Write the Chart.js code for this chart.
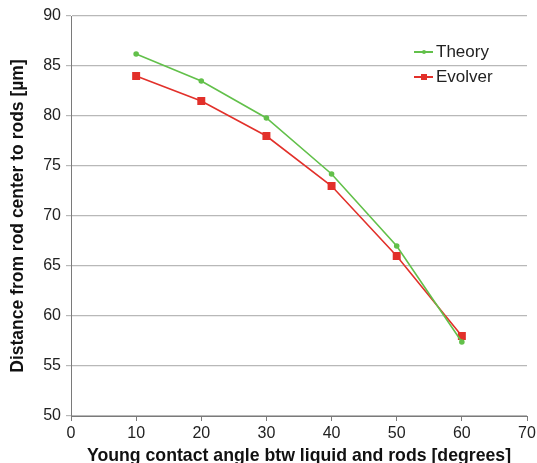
<!DOCTYPE html>
<html>
<head>
<meta charset="utf-8">
<script src="https://cdn.jsdelivr.net/npm/chart.js@4.4.1/dist/chart.umd.min.js"></script>
<style>
    html, body { margin: 0; padding: 0; background: #fff; overflow: hidden; }
    #wrap { position: relative; width: 537px; height: 467px; }
    #legend {
        position: absolute; left: 414px; top: 39px;
        font-family: "Liberation Sans", Arial, sans-serif; font-size: 17px; color: #222;
    }
    .item { display: flex; align-items: center; height: 25px; }
    .sample { position: relative; width: 19px; height: 2px; margin-right: 3px; }
    .sample i { position: absolute; left: 50%; top: 50%; transform: translate(-50%, -50%); }
</style>
</head>
<body>
<div id="wrap">
    <canvas id="chart" width="537" height="467"></canvas>
    <div id="legend"></div>
</div>
<script>
// ------------------------------------------
// Veriler
// ------------------------------------------
const angles = [10, 20, 30, 40, 50, 60];
const theory = [86.2, 83.5, 79.8, 74.2, 67.0, 57.4];
const evolver = [84.0, 81.5, 78.0, 73.0, 66.0, 58.0];

const xTitle = "Young contact angle btw liquid and rods [degrees]";
const yTitle = "Distance from rod center to rods [µm]";

const GREEN = "#62c04a";
const RED = "#e2302a";

const FONT = "'Liberation Sans', Arial, sans-serif";

function toPoints(vals) {
    return angles.map((a, i) => ({ x: a, y: vals[i] }));
}

// ------------------------------------------
// Legend (HTML)
// ------------------------------------------
function buildLegend() {
    const items = [
        { label: "Theory", color: GREEN, marker: `<i style="width:4px;height:4px;border-radius:50%;background:${GREEN}"></i>` },
        { label: "Evolver", color: RED, marker: `<i style="width:6px;height:6px;background:${RED}"></i>` }
    ];
    const el = document.getElementById("legend");
    el.innerHTML = items.map(it => `
        <div class="item">
            <span class="sample" style="background:${it.color}">${it.marker}</span>
            <span>${it.label}</span>
        </div>`).join("");
}

// ------------------------------------------
// Grafik
// ------------------------------------------
new Chart(document.getElementById("chart"), {
    type: "line",
    data: {
        datasets: [
            {
                label: "Theory",
                data: toPoints(theory),
                borderColor: GREEN,
                backgroundColor: GREEN,
                borderWidth: 1.6,
                pointStyle: "circle",
                pointRadius: 2,
                tension: 0
            },
            {
                label: "Evolver",
                data: toPoints(evolver),
                borderColor: RED,
                backgroundColor: RED,
                borderWidth: 1.6,
                pointStyle: "rect",
                pointRadius: 4.5,
                tension: 0
            }
        ]
    },
    options: {
        responsive: false,
        animation: false,
        layout: { padding: { top: 16, right: 10, left: 0, bottom: 0 } },
        plugins: { legend: { display: false }, tooltip: { enabled: false } },
        scales: {
            x: {
                type: "linear",
                min: 0,
                max: 70,
                afterFit: s => { s.height = 51; s.paddingRight = 0; },
                border: { color: "#7a7a7a", width: 1 },
                grid: { drawOnChartArea: false, drawTicks: true, tickLength: 5, color: "#7a7a7a" },
                ticks: { stepSize: 10, padding: 3, color: "#222", font: { family: FONT, size: 16 } },
                title: {
                    display: true,
                    text: xTitle,
                    color: "#111",
                    padding: { top: 0, bottom: 0 },
                    font: { family: FONT, size: 17.7, weight: "bold" }
                }
            },
            y: {
                min: 50,
                max: 90,
                afterFit: s => { s.width = 71; },
                border: { color: "#7a7a7a", width: 1 },
                grid: { color: "#b8b8b8", lineWidth: 1.2, tickLength: 5 },
                ticks: { stepSize: 5, padding: 5, color: "#222", font: { family: FONT, size: 16 } },
                title: {
                    display: true,
                    text: yTitle,
                    color: "#111",
                    padding: { top: 8, bottom: 0 },
                    font: { family: FONT, size: 17.5, weight: "bold" }
                }
            }
        }
    }
});

buildLegend();
</script>
</body>
</html>
